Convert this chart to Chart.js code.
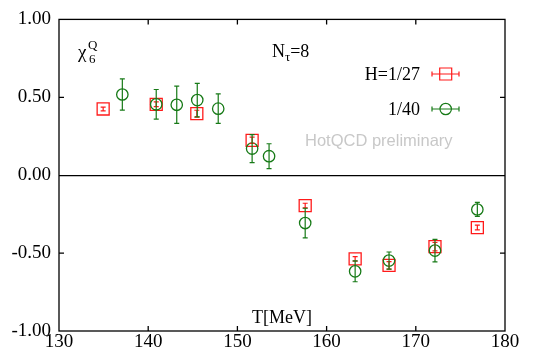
<!DOCTYPE html>
<html>
<head>
<meta charset="utf-8">
<script src="https://cdn.jsdelivr.net/npm/chart.js@4/dist/chart.umd.min.js"></script>
<style>
  html, body { margin: 0; padding: 0; background: #fff; }
  #wrap { width: 535px; height: 355px; }
</style>
</head>
<body>
<div id="wrap"><canvas id="chi6"></canvas></div>
<script>
// H = 1/27 (red squares)
const tempA = [134.95, 140.9, 145.45, 151.65, 157.6, 163.2, 167.0, 172.15, 176.9];
const chiA  = [0.425, 0.455, 0.395, 0.224, -0.195, -0.537, -0.579, -0.459, -0.336];
const errA  = [0.012, 0.015, 0.022, 0.02, 0.015, 0.015, 0.024, 0.027, 0.015];

// H = 1/40 (green circles)
const tempB = [137.1, 140.9, 143.2, 145.5, 147.85, 151.65, 153.55, 157.6, 163.2, 167.0, 172.15, 176.9];
const chiB  = [0.518, 0.455, 0.452, 0.482, 0.427, 0.171, 0.122, -0.307, -0.617, -0.548, -0.484, -0.22];
const errB  = [0.10, 0.095, 0.12, 0.107, 0.095, 0.09, 0.08, 0.095, 0.067, 0.055, 0.072, 0.045];

const labels = ['H=1/27', '1/40'];
const xTicks = [130, 140, 150, 160, 170, 180];
const yTicks = [-1, -0.5, 0, 0.5, 1];

const RED = '#ff1a1a';
const GREEN = '#177a17';
const SERIF = "'Liberation Serif', 'DejaVu Serif', serif";

function toPoints(xs, ys) {
  return xs.map((x, i) => ({ x: x, y: ys[i] }));
}

// error bars, frame, inward ticks, legend and annotations
const decorations = {
  id: 'decorations',
  afterDatasetsDraw(chart) {
    const ctx = chart.ctx;
    const area = chart.chartArea;
    const xs = chart.scales.x;
    const ys = chart.scales.y;

    // vertical error bars from the data
    chart.data.datasets.forEach((ds, di) => {
      const meta = chart.getDatasetMeta(di);
      ctx.save();
      ctx.strokeStyle = ds.borderColor;
      ctx.lineWidth = 1.2;
      meta.data.forEach((pt, i) => {
        const v = ds.data[i].y;
        const e = ds.errors[i];
        const top = ys.getPixelForValue(v + e);
        const bot = ys.getPixelForValue(v - e);
        ctx.beginPath();
        ctx.moveTo(pt.x, top); ctx.lineTo(pt.x, bot);
        ctx.moveTo(pt.x - 2.5, top); ctx.lineTo(pt.x + 2.5, top);
        ctx.moveTo(pt.x - 2.5, bot); ctx.lineTo(pt.x + 2.5, bot);
        ctx.stroke();
      });
      ctx.restore();
    });

    // frame and inward ticks
    ctx.save();
    ctx.strokeStyle = '#000';
    ctx.lineWidth = 1.3;
    ctx.strokeRect(area.left, area.top, area.right - area.left, area.bottom - area.top);
    ctx.beginPath();
    xTicks.slice(1, -1).forEach(t => {
      const px = xs.getPixelForValue(t);
      ctx.moveTo(px, area.bottom); ctx.lineTo(px, area.bottom - 5);
      ctx.moveTo(px, area.top); ctx.lineTo(px, area.top + 5);
    });
    yTicks.slice(1, -1).forEach(t => {
      if (t === 0) return;
      const py = ys.getPixelForValue(t);
      ctx.moveTo(area.left, py); ctx.lineTo(area.left + 5, py);
      ctx.moveTo(area.right, py); ctx.lineTo(area.right - 5, py);
    });
    ctx.stroke();
    ctx.restore();

    // legend
    ctx.save();
    ctx.font = '18px ' + SERIF;
    ctx.fillStyle = '#000';
    ctx.textAlign = 'right';
    ctx.textBaseline = 'middle';
    const legendRows = [74, 109];
    chart.data.datasets.forEach((ds, di) => {
      const y = legendRows[di];
      ctx.fillStyle = '#000';
      ctx.fillText(labels[di], 420, y + 1);
      ctx.strokeStyle = ds.borderColor;
      ctx.lineWidth = 1.2;
      ctx.beginPath();
      ctx.moveTo(432, y); ctx.lineTo(459, y);
      ctx.moveTo(432, y - 2.5); ctx.lineTo(432, y + 2.5);
      ctx.moveTo(459, y - 2.5); ctx.lineTo(459, y + 2.5);
      ctx.stroke();
      ctx.beginPath();
      if (ds.pointStyle === 'rect') {
        ctx.rect(439.7, y - 6, 12, 12);
      } else {
        ctx.arc(445.7, y, 5.7, 0, Math.PI * 2);
      }
      ctx.stroke();
    });
    ctx.restore();

    // annotations
    ctx.save();
    ctx.fillStyle = '#000';
    ctx.textBaseline = 'alphabetic';
    ctx.textAlign = 'left';
    ctx.font = '19px ' + SERIF;
    ctx.fillText('\u03C7', 78, 58);
    ctx.font = '13px ' + SERIF;
    ctx.fillText('6', 89, 63);
    ctx.fillText('Q', 88, 49);

    ctx.font = '18px ' + SERIF;
    ctx.fillText('N', 272, 57);
    let w = ctx.measureText('N').width;
    ctx.font = '13px ' + SERIF;
    ctx.fillText('\u03C4', 272 + w, 61);
    const w2 = ctx.measureText('\u03C4').width;
    ctx.font = '18px ' + SERIF;
    ctx.fillText('=8', 272 + w + w2, 57);

    ctx.textAlign = 'center';
    ctx.fillText('T[MeV]', 282, 323);

    ctx.textAlign = 'left';
    ctx.font = "16.5px 'Liberation Sans', Arial, sans-serif";
    ctx.fillStyle = '#c8c8c8';
    ctx.fillText('HotQCD preliminary', 305, 146);
    ctx.restore();
  }
};

new Chart(document.getElementById('chi6'), {
  type: 'scatter',
  data: {
    datasets: [
      {
        label: labels[0],
        data: toPoints(tempA, chiA),
        errors: errA,
        pointStyle: 'rect',
        pointRadius: 8.5,
        pointHoverRadius: 8.5,
        borderColor: RED,
        backgroundColor: 'rgba(0,0,0,0)',
        borderWidth: 1.3,
        order: 2
      },
      {
        label: labels[1],
        data: toPoints(tempB, chiB),
        errors: errB,
        pointStyle: 'circle',
        pointRadius: 5.7,
        pointHoverRadius: 5.7,
        borderColor: GREEN,
        backgroundColor: 'rgba(0,0,0,0)',
        borderWidth: 1.3,
        order: 1
      }
    ]
  },
  options: {
    responsive: true,
    maintainAspectRatio: false,
    animation: false,
    events: [],
    layout: { padding: { top: 15, right: 30, left: 0, bottom: 0 } },
    plugins: { legend: { display: false }, tooltip: { enabled: false } },
    scales: {
      x: {
        type: 'linear',
        min: 130,
        max: 180,
        afterFit: s => { s.height = 24; },
        afterBuildTicks: s => { s.ticks = xTicks.map(v => ({ value: v })); },
        border: { display: false },
        grid: { display: false, drawTicks: false },
        ticks: { color: '#000', padding: 0, font: { family: SERIF, size: 19 } }
      },
      y: {
        min: -1,
        max: 1,
        afterFit: s => { s.width = 59; },
        afterBuildTicks: s => { s.ticks = yTicks.map(v => ({ value: v })); },
        border: { display: false },
        grid: {
          drawTicks: false,
          lineWidth: 1.3,
          color: c => (c.tick && c.tick.value === 0 ? '#000' : 'rgba(0,0,0,0)')
        },
        ticks: {
          color: '#000',
          padding: 8,
          font: { family: SERIF, size: 19 },
          callback: v => v.toFixed(2)
        }
      }
    }
  },
  plugins: [decorations]
});
</script>
</body>
</html>
